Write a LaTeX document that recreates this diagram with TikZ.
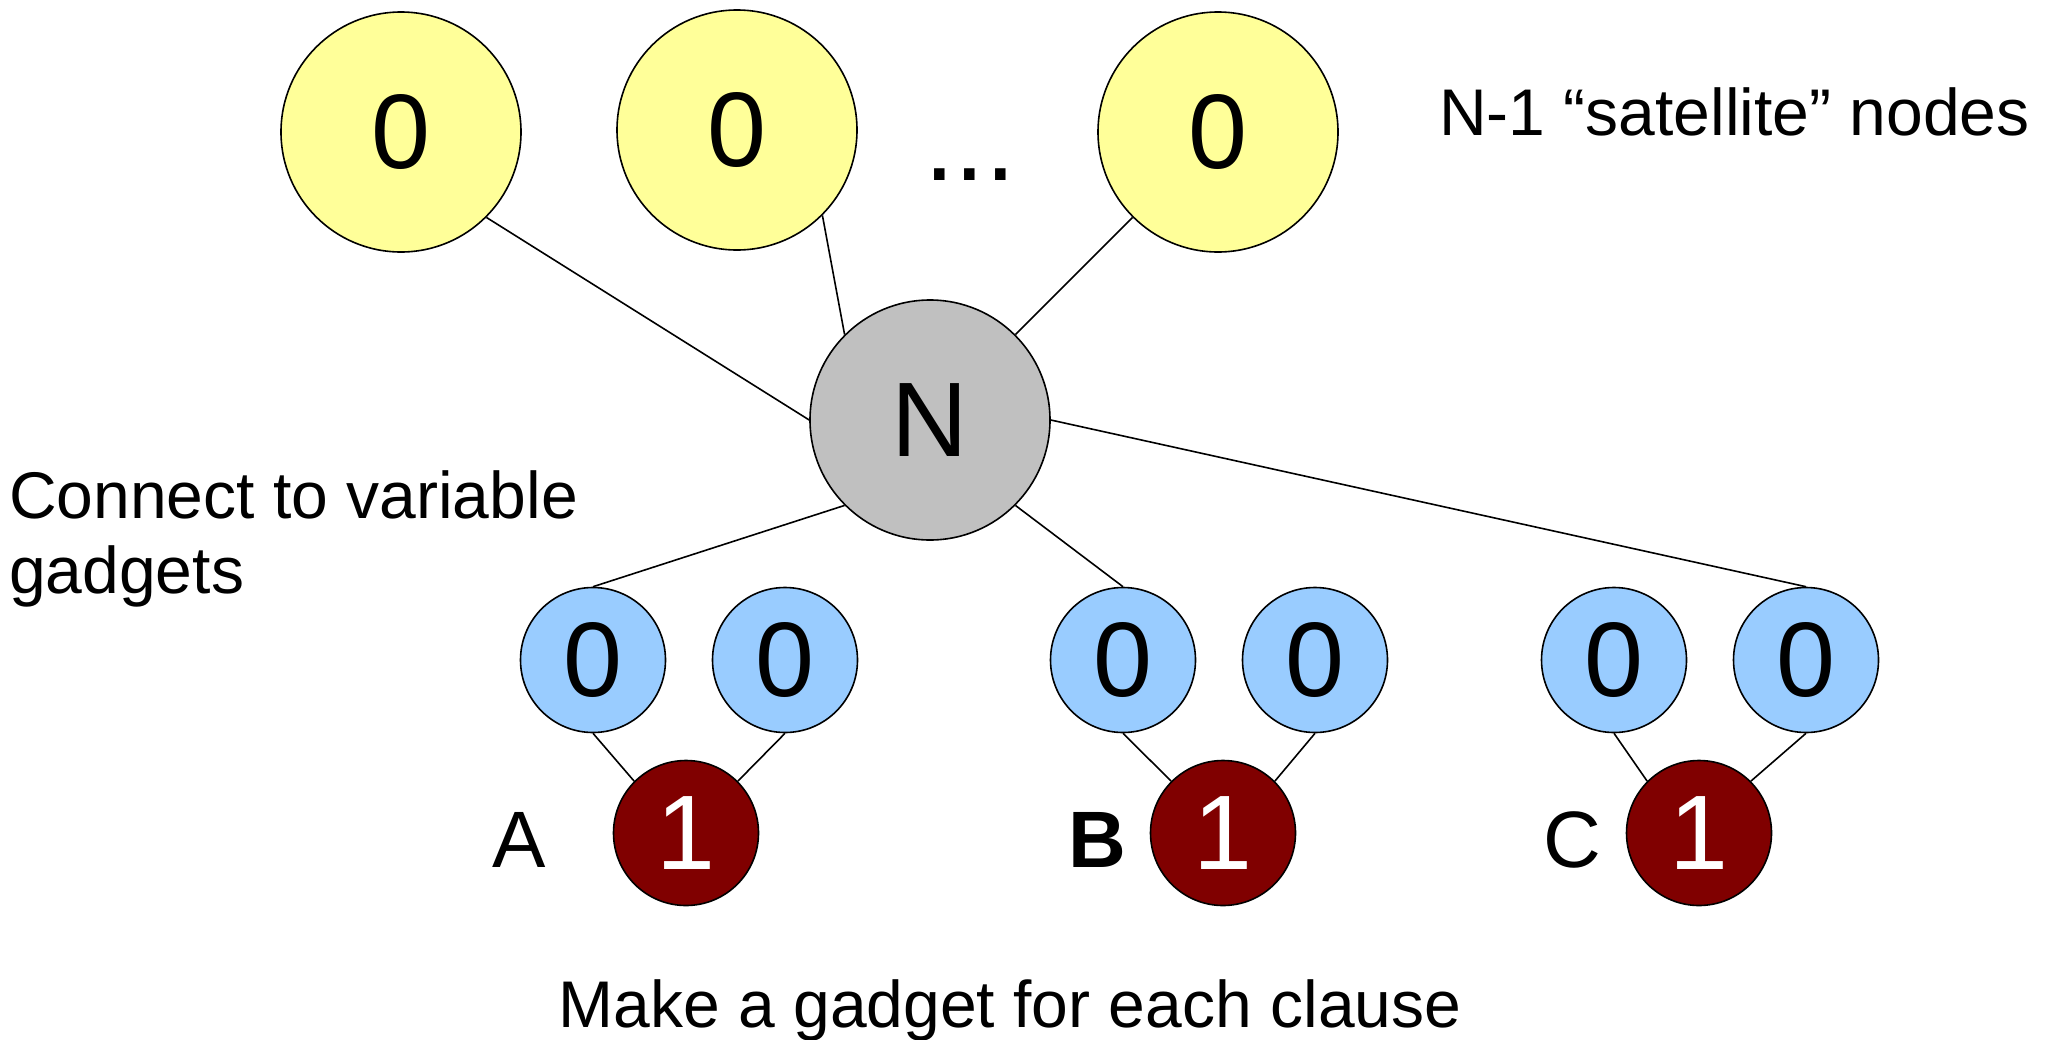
\documentclass[tikz,border=0pt]{standalone}
\usepackage{fontspec}
\setmainfont{Liberation Sans}
\definecolor{ylw}{HTML}{FFFF99}
\definecolor{blu}{HTML}{99CCFF}
\definecolor{gry}{HTML}{C0C0C0}
\definecolor{drd}{HTML}{800000}
\tikzset{
  bignode/.style={circle,draw=black,line width=1.6pt,minimum size=240pt,inner sep=0pt,font=\fontsize{106}{106}\selectfont},
  smallnode/.style={circle,draw=black,line width=1.6pt,minimum size=145pt,inner sep=0pt,font=\fontsize{106}{106}\selectfont},
  sat/.style={bignode,fill=ylw},
  center/.style={bignode,fill=gry},
  var/.style={smallnode,fill=blu},
  clause/.style={smallnode,fill=drd,text=white},
  lbl/.style={inner sep=0pt,font=\fontsize{66}{75}\selectfont},
  clbl/.style={inner sep=0pt,anchor=base,font=\fontsize{80}{80}\selectfont},
  edge/.style={line width=1.6pt}
}
\begin{document}
\begin{tikzpicture}[x=1pt,y=-1pt]
\useasboundingbox (0,0) rectangle (2045,1039);
% satellites
\node[sat] (y1) at (401,132) {0};
\node[sat] (y2) at (737,130) {0};
\node[sat] (y3) at (1218,132) {0};
\node[inner sep=0pt,anchor=base,font=\fontsize{110}{110}\selectfont] (dots) at (970,180) {...};
% center
\node[center] (n) at (930,420) {N};
% variable nodes
\node[var] (b1) at (593,660) {0};
\node[var] (b2) at (785,660) {0};
\node[var] (b3) at (1123,660) {0};
\node[var] (b4) at (1315,660) {0};
\node[var] (b5) at (1614,660) {0};
\node[var] (b6) at (1806,660) {0};
% clause nodes
\node[clause] (ra) at (686,833) {1};
\node[clause] (rb) at (1223,833) {1};
\node[clause] (rc) at (1699,833) {1};
% clause labels
\node[clbl] (la) at (519,867) {A};
\node[clbl,font=\fontsize{80}{80}\selectfont\bfseries] (lb) at (1097,867) {B};
\node[clbl] (lc) at (1572,867) {C};
% texts
\node[lbl,anchor=base west] (t1) at (1439,135) {N-1 “satellite” nodes};
\node[lbl,anchor=base west,align=left] (t2) at (9,593) {Connect to variable\\gadgets};
\node[lbl,anchor=base] (t3) at (1010,1027) {Make a gadget for each clause};
% edges
\draw[edge] (n.west) -- (y1.south east);
\draw[edge] (n.north west) -- (y2.south east);
\draw[edge] (n.north east) -- (y3.south west);
\draw[edge] (n.south west) -- (b1.north);
\draw[edge] (n.south east) -- (b3.north);
\draw[edge] (n.east) -- (b6.north);
\draw[edge] (b1.south) -- (ra.north west);
\draw[edge] (b2.south) -- (ra.north east);
\draw[edge] (b3.south) -- (rb.north west);
\draw[edge] (b4.south) -- (rb.north east);
\draw[edge] (b5.south) -- (rc.north west);
\draw[edge] (b6.south) -- (rc.north east);
\end{tikzpicture}
\end{document}
